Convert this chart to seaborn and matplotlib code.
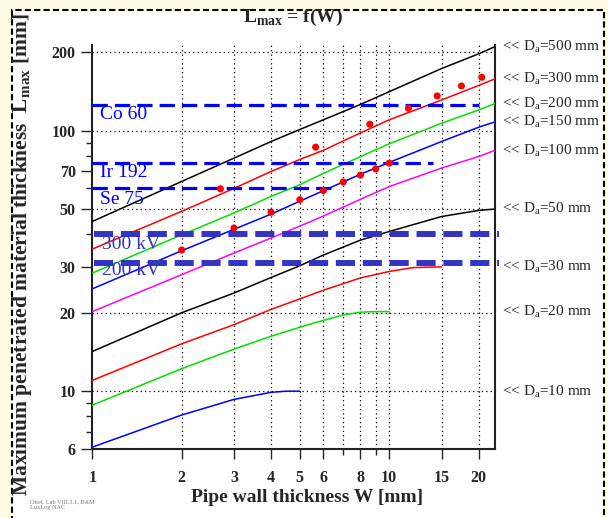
import pandas as pd
import matplotlib
matplotlib.use('Agg')
import matplotlib.pyplot as plt
from matplotlib.patches import Rectangle
from matplotlib import transforms
import seaborn as sns

# Lmax, per outer diameter Da [mm]
w_full = [1, 2, 3, 4, 5, 6, 8, 10, 15, 20, 22.7]
l_500 = [44.8, 63.8, 78.4, 90.8, 101, 110, 126, 141, 173, 197, 210]
l_300 = [35.1, 49, 60, 69.7, 77.5, 84, 98, 110, 131, 149, 158]
l_200 = [28.4, 39.8, 48.3, 55.9, 62, 68.5, 79.5, 89, 106.7, 120, 127]
l_150 = [24.7, 34.6, 41.8, 47.8, 53.6, 58.8, 68, 75.5, 90.8, 103, 108]
l_100 = [20.2, 28, 33.9, 38.7, 43, 47, 54.5, 61, 71.8, 79.5, 84]
l_50 = [14.2, 20, 23.8, 27.3, 30.3, 33.3, 38, 41, 46.8, 49.4, 50]
w_30 = [1, 2, 3, 4, 5, 6, 8, 10, 12, 15]
l_30 = [11, 15.2, 18, 20.6, 22.6, 24.4, 27.2, 28.8, 29.8, 30]
w_20 = [1, 2, 3, 4, 5, 6, 7, 8, 9, 10]
l_20 = [8.84, 12.2, 14.5, 16.25, 17.6, 18.7, 19.6, 20.1, 20.2, 20.2]
w_10 = [1, 2, 3, 4, 4.5, 5]
l_10 = [6.1, 8.1, 9.3, 9.9, 10, 10]

curve_names = ['500', '300', '200', '150', '100', '50', '30', '20', '10']
curve_colors = ['black', 'red', '#00e000', 'blue', 'magenta',
                'black', 'red', '#00e000', 'blue']

# measured points
w_meas = [2, 2.7, 3, 4, 5, 5.65, 6, 7, 8, 8.6, 9, 10, 11.6, 14.5, 17.5, 20.5]
l_meas = [34.8, 59.8, 42.3, 48.6, 54.3, 86.4, 58.9, 63.5, 67.5, 105.8,
          71.3, 75, 121.8, 135.8, 148.3, 160.2]

# source limits
src_names = ['Co 60', 'Ir 192', 'Se 75']
src_level = [125, 75, 60]
src_wmax = [20, 14, 6.5]
kv_names = ['300 kV', '200 kV']
kv_level = [40, 31]

grid_x = [2, 3, 4, 5, 6, 7, 8, 9, 10, 15, 20]
grid_y = [10, 20, 50, 100, 200]
xtick_vals = [1, 2, 3, 4, 5, 6, 8, 10, 15, 20]
ytick_vals = [6, 10, 20, 30, 50, 70, 100, 200]

sns.set_theme(style='white')
plt.rcParams['font.family'] = ['Liberation Serif', 'DejaVu Serif']
plt.rcParams['mathtext.fontset'] = 'custom'
plt.rcParams['mathtext.rm'] = 'Liberation Serif'

w_lists = [w_full] * 6 + [w_30, w_20, w_10]
l_lists = [l_500, l_300, l_200, l_150, l_100, l_50, l_30, l_20, l_10]
rows = []
for name, ws, ls in zip(curve_names, w_lists, l_lists):
    for w, l in zip(ws, ls):
        rows.append({'W': w, 'L': l, 'Da': name})
df = pd.DataFrame(rows)

fig = plt.figure(figsize=(6.08, 5.18), dpi=100, facecolor='#fffde3')
fig.add_artist(Rectangle((12 / 608, -0.1), 592 / 608, 508 / 518 + 0.1,
                         transform=fig.transFigure, facecolor='white',
                         edgecolor='black', lw=1.5, ls=(0, (3, 1.5)), zorder=-5))
ax = fig.add_axes([0.1518, 0.1332, 0.6623, 0.7799])
ax.set_facecolor('none')
ax.set_xscale('log')
ax.set_yscale('log')

for gx in grid_x:
    ax.axvline(gx, color='black', lw=0.9, ls=(0, (1, 2.5)), zorder=1)
for gy in grid_y:
    ax.axhline(gy, color='black', lw=0.9, ls=(0, (1, 2.5)), zorder=1)

sns.lineplot(data=df, x='W', y='L', hue='Da', palette=dict(zip(curve_names, curve_colors)),
             estimator=None, legend=False, lw=1.1, ax=ax, zorder=3)
sns.scatterplot(x=w_meas, y=l_meas, color='red', s=26, edgecolor='none', ax=ax, zorder=5)

for name, lev, wmax in zip(src_names, src_level, src_wmax):
    ax.hlines(lev, 1, wmax, colors='blue', lw=2.3, linestyles=[(0, (4.8, 2.2))], zorder=4)
for name, lev in zip(kv_names, kv_level):
    ax.hlines(lev, 1.01, 23.4, colors='#3434c4', lw=4.3, linestyles=[(0, (3.2, 1.3))],
              zorder=4, clip_on=False)

# source labels
ax.text(1.06, 114.8, 'Co 60', color='blue', fontsize=14, va='center')
ax.text(1.06, 68.8, 'Ir 192', color='blue', fontsize=14, va='center')
ax.text(1.06, 54.3, 'Se 75', color='blue', fontsize=14, va='center')
ax.text(1.08, 36.5, '300 kV', color='#3434c4', fontsize=14, va='center')
ax.text(1.08, 29.0, '200 kV', color='#3434c4', fontsize=14, va='center')

trans = transforms.blended_transform_factory(ax.transAxes, ax.transData)
for name, ls in zip(curve_names, l_lists):
    ax.text(1.017, ls[-1], '<< D$_\\mathregular{a}$=' + name + ' mm', transform=trans,
            fontsize=11, va='center', ha='left', clip_on=False)

ax.set_xlim(1, 22.7)
ax.set_ylim(6, 213)
ax.set_xticks(xtick_vals)
ax.set_xticklabels([str(v) for v in xtick_vals])
ax.set_xticks([7, 9], minor=True)
ax.set_yticks(ytick_vals)
ax.set_yticklabels([str(v) for v in ytick_vals])
ax.set_yticks([7, 8, 9, 40, 60, 80, 90], minor=True)
ax.yaxis.set_minor_formatter(plt.NullFormatter())
ax.xaxis.set_minor_formatter(plt.NullFormatter())
ax.tick_params(axis='x', which='major', direction='out', length=7, width=1, pad=8,
               labelsize=11.5, bottom=True)
ax.tick_params(axis='x', which='minor', direction='out', length=4, width=1, bottom=True)
ax.tick_params(axis='y', which='major', direction='out', length=8, width=1, pad=4,
               labelsize=11.5, left=True)
ax.tick_params(axis='y', which='minor', direction='out', length=4, width=1, left=True)
for lab in ax.get_xticklabels() + ax.get_yticklabels():
    lab.set_fontweight('bold')
ax.set_xlabel('')
ax.set_ylabel('')
for side in ['left', 'right', 'bottom']:
    ax.spines[side].set_color('#222222')
    ax.spines[side].set_linewidth(1.5)
ax.spines['top'].set_visible(False)

fig.text(293 / 608, 1 - 17 / 518, 'L$_\\mathregular{max}$ = f(W)', fontsize=14,
         fontweight='bold', ha='center', va='center')
fig.text(307 / 608, 1 - 497 / 518, 'Pipe wall thickness W [mm]', fontsize=14,
         fontweight='bold', ha='center', va='center')
fig.text(22 / 608, 1 - 255 / 518,
         'Maximum penetrated material thickness  L$_\\mathregular{max}$ [mm]',
         fontsize=15.5, fontweight='bold', rotation=90, ha='center', va='center')
fig.text(30 / 608, 1 - 505 / 518, 'Ottel, Lab VIII.3.1, BAM\nLuxLog NAC', fontsize=4.5,
         color='#777777', va='center', linespacing=1.1)

fig.savefig('out.png', dpi=100, facecolor=fig.get_facecolor())
